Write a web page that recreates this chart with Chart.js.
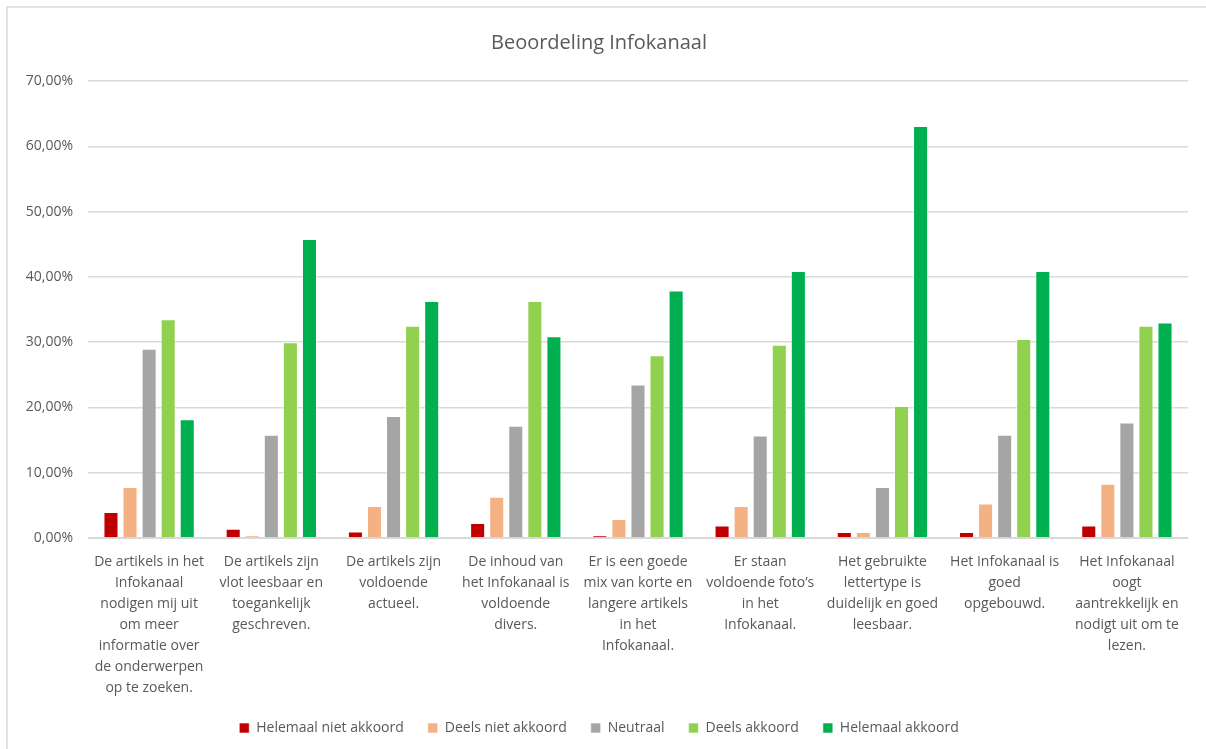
<!DOCTYPE html>
<html>
<head>
<meta charset="utf-8">
<title>Beoordeling Infokanaal</title>
<script src="https://cdn.jsdelivr.net/npm/chart.js@4.4.1/dist/chart.umd.min.js"></script>
<style>
    html, body { margin: 0; padding: 0; background: #fff; }
    #wrap { width: 1206px; height: 749px; }
</style>
</head>
<body>
<div id="wrap"><canvas id="chart" width="1206" height="749"></canvas></div>
<script>
// Statements (already broken into lines as they appear under the axis)
const statements = [
    ['De artikels in het', 'Infokanaal', 'nodigen mij uit', 'om meer', 'informatie over', 'de onderwerpen', 'op te zoeken.'],
    ['De artikels zijn', 'vlot leesbaar en', 'toegankelijk', 'geschreven.'],
    ['De artikels zijn', 'voldoende', 'actueel.'],
    ['De inhoud van', 'het Infokanaal is', 'voldoende', 'divers.'],
    ['Er is een goede', 'mix van korte en', 'langere artikels', 'in het', 'Infokanaal.'],
    ['Er staan', 'voldoende foto\u2019s', 'in het', 'Infokanaal.'],
    ['Het gebruikte', 'lettertype is', 'duidelijk en goed', 'leesbaar.'],
    ['Het Infokanaal is', 'goed', 'opgebouwd.'],
    ['Het Infokanaal', 'oogt', 'aantrekkelijk en', 'nodigt uit om te', 'lezen.'],
];

// Answer shares per statement (%)
const helemaalNiet = [4.0, 1.4, 1.0, 2.3, 0.4, 1.9, 0.9, 0.9, 1.9];
const deelsNiet    = [7.8, 0.4, 4.9, 6.3, 2.9, 4.9, 0.9, 5.3, 8.3];
const neutraal     = [29.0, 15.8, 18.7, 17.2, 23.5, 15.7, 7.8, 15.8, 17.7];
const deels        = [33.5, 30.0, 32.5, 36.3, 28.0, 29.6, 20.2, 30.5, 32.5];
const helemaal     = [18.2, 45.8, 36.3, 30.9, 37.9, 40.9, 63.1, 40.9, 33.0];

const yTicks = [0, 10, 20, 30, 40, 50, 60, 70];

const textColor = '#595959';
const fontFamily = "'Open Sans', 'Noto Sans', sans-serif";

// thin frame around the chart
const frame = {
    id: 'frame',
    afterDraw(chart) {
        const ctx = chart.ctx;
        ctx.save();
        ctx.strokeStyle = '#d9d9d9';
        ctx.lineWidth = 1.5;
        ctx.beginPath();
        ctx.moveTo(7, 749);
        ctx.lineTo(7, 7);
        ctx.lineTo(1206, 7);
        ctx.stroke();
        ctx.restore();
    }
};

function series(label, data, color) {
    return {
        label: label,
        data: data,
        backgroundColor: color,
        borderColor: 'rgba(255,255,255,0.6)',
        borderWidth: 1,
        categoryPercentage: 0.78,
        barPercentage: 0.79,
    };
}

new Chart(document.getElementById('chart'), {
    type: 'bar',
    data: {
        labels: statements,
        datasets: [
            series('Helemaal niet akkoord', helemaalNiet, '#c00000'),
            series('Deels niet akkoord', deelsNiet, '#f4b183'),
            series('Neutraal', neutraal, '#a5a5a5'),
            series('Deels akkoord', deels, '#92d050'),
            series('Helemaal akkoord', helemaal, '#00b050'),
        ],
    },
    options: {
        responsive: false,
        animation: false,
        layout: { padding: { left: 10, right: 18, top: 0, bottom: 4 } },
        plugins: {
            title: {
                display: true,
                text: 'Beoordeling Infokanaal',
                color: textColor,
                font: { family: fontFamily, size: 20, weight: 'normal' },
                padding: { top: 31, bottom: 26 },
            },
            legend: {
                position: 'bottom',
                labels: {
                    color: textColor,
                    font: { family: fontFamily, size: 14 },
                    boxWidth: 10,
                    boxHeight: 10,
                    padding: 24,
                },
            },
            tooltip: { enabled: false },
        },
        scales: {
            x: {
                grid: { display: false },
                border: { color: '#d9d9d9' },
                ticks: {
                    color: textColor,
                    font: { family: fontFamily, size: 14, lineHeight: 1.5 },
                    maxRotation: 0,
                    autoSkip: false,
                    padding: 6,
                },
                afterFit: (scale) => { scale.height = 159; },
            },
            y: {
                min: 0,
                max: 70,
                afterBuildTicks: (scale) => { scale.ticks = yTicks.map(v => ({ value: v })); },
                grid: { color: '#d9d9d9', lineWidth: 1.5, drawTicks: false },
                border: { display: false },
                ticks: {
                    color: textColor,
                    font: { family: fontFamily, size: 14 },
                    padding: 15,
                    callback: (v) => v.toFixed(2).replace('.', ',') + '%',
                },
                afterFit: (scale) => { scale.width = 78; },
            },
        },
    },
    plugins: [frame],
});
</script>
</body>
</html>
